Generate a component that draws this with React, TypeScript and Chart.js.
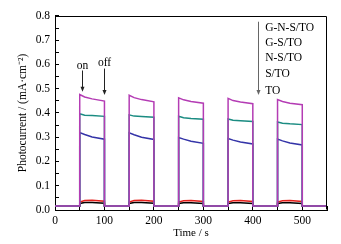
import { useEffect, useRef } from 'react';
import { Chart, registerables } from 'chart.js';
Chart.register(...registerables);

// time axis (s): baseline, light-on edge, decay points, light-off edge
const times = [0, 50, 50, 60, 75, 100, 100, 150, 150, 160, 175, 200, 200, 250, 250, 260, 275, 300, 300, 350, 350, 360, 375, 400, 400, 450, 450, 460, 475, 500, 500, 550];

const gnsTO = [0.017, 0.017, 0.476, 0.466, 0.458, 0.449, 0.017, 0.017, 0.473, 0.463, 0.455, 0.446, 0.017, 0.017, 0.462, 0.454, 0.447, 0.440, 0.017, 0.017, 0.460, 0.451, 0.445, 0.438, 0.017, 0.017, 0.455, 0.447, 0.440, 0.434, 0.017, 0.017];
const gsTO = [0.017, 0.017, 0.397, 0.391, 0.389, 0.386, 0.017, 0.017, 0.392, 0.387, 0.385, 0.382, 0.017, 0.017, 0.386, 0.380, 0.377, 0.374, 0.017, 0.017, 0.375, 0.370, 0.368, 0.365, 0.017, 0.017, 0.363, 0.358, 0.355, 0.352, 0.017, 0.017];
const nsTO = [0.017, 0.017, 0.319, 0.311, 0.301, 0.292, 0.017, 0.017, 0.318, 0.310, 0.300, 0.291, 0.017, 0.017, 0.299, 0.292, 0.283, 0.275, 0.017, 0.017, 0.295, 0.288, 0.280, 0.272, 0.017, 0.017, 0.292, 0.285, 0.276, 0.268, 0.017, 0.017];
const sTO = [0.016, 0.016, 0.033, 0.039, 0.040, 0.036, 0.016, 0.016, 0.033, 0.039, 0.040, 0.036, 0.016, 0.016, 0.033, 0.038, 0.039, 0.035, 0.016, 0.016, 0.033, 0.038, 0.039, 0.035, 0.016, 0.016, 0.033, 0.038, 0.039, 0.035, 0.016, 0.016];
const pTO = [0.016, 0.016, 0.027, 0.031, 0.031, 0.028, 0.016, 0.016, 0.027, 0.031, 0.031, 0.028, 0.016, 0.016, 0.027, 0.030, 0.030, 0.027, 0.016, 0.016, 0.027, 0.030, 0.030, 0.027, 0.016, 0.016, 0.027, 0.030, 0.030, 0.027, 0.016, 0.016];

const seriesNames = ['G-N-S/TO', 'G-S/TO', 'N-S/TO', 'S/TO', 'TO'];
const seriesColors = ['#b43cb4', '#1b8c82', '#3434a8', '#e41e1a', '#000000'];
const seriesValues = [gnsTO, gsTO, nsTO, sTO, pTO];

// legend list (data coordinates)
const legendX = 425;
const legendRowY = [0.750, 0.690, 0.626, 0.560, 0.492];
const legendArrow = { x: 411, from: 0.776, to: 0.474 };

// on/off annotations (data coordinates)
const annotations = [
  { text: 'on', x: 55, textY: 0.595, from: 0.575, to: 0.487 },
  { text: 'off', x: 100, textY: 0.607, from: 0.583, to: 0.474 },
];

const FONT = '"Liberation Serif", "Times New Roman", serif';

export default function App() {
  const ref = useRef<HTMLCanvasElement>(null);
  useEffect(() => {
    document.body.style.margin = '0';
    const canvas = ref.current;
    if (!canvas) return;
    Chart.defaults.font.family = FONT;

    const arrow = (ctx: CanvasRenderingContext2D, x: number, y1: number, y2: number, color: string) => {
      ctx.strokeStyle = color;
      ctx.fillStyle = color;
      ctx.lineWidth = 1;
      ctx.beginPath();
      ctx.moveTo(x, y1);
      ctx.lineTo(x, y2 - 4);
      ctx.stroke();
      ctx.beginPath();
      ctx.moveTo(x - 2, y2 - 5);
      ctx.lineTo(x + 2, y2 - 5);
      ctx.lineTo(x, y2);
      ctx.closePath();
      ctx.fill();
    };

    const overlay = {
      id: 'overlay',
      afterDraw(chart: any) {
        const { ctx, chartArea: ca, scales } = chart;
        const xs = scales.x;
        const ys = scales.y;
        ctx.save();
        ctx.strokeStyle = '#000';
        ctx.lineWidth = 1;
        ctx.beginPath();
        const l = Math.round(ca.left) + 0.5;
        const r = Math.round(ca.right) - 0.5;
        const t = Math.round(ca.top) + 0.5;
        const b = Math.round(ca.bottom) - 0.5;
        ctx.moveTo(l, t);
        ctx.lineTo(r, t);
        ctx.lineTo(r, b);
        ctx.stroke();

        ctx.font = `11.5px ${FONT}`;
        ctx.textBaseline = 'middle';
        ctx.textAlign = 'center';
        for (const a of annotations) {
          const px = Math.round(xs.getPixelForValue(a.x)) + 0.5;
          ctx.fillStyle = '#000';
          ctx.fillText(a.text, px, ys.getPixelForValue(a.textY));
          arrow(ctx, px, ys.getPixelForValue(a.from), ys.getPixelForValue(a.to), '#222');
        }

        const ax = Math.round(xs.getPixelForValue(legendArrow.x)) + 0.5;
        arrow(ctx, ax, ys.getPixelForValue(legendArrow.from), ys.getPixelForValue(legendArrow.to), '#666');
        ctx.textAlign = 'left';
        ctx.fillStyle = '#000';
        ctx.font = `11.5px ${FONT}`;
        seriesNames.forEach((n, i) => {
          ctx.fillText(n, xs.getPixelForValue(legendX), ys.getPixelForValue(legendRowY[i]));
        });
        ctx.restore();
      },
    };

    const chart = new Chart(canvas, {
      type: 'line',
      data: {
        datasets: seriesNames.map((name, i) => ({
          label: name,
          data: times.map((t, j) => ({ x: t, y: seriesValues[i][j] })),
          borderColor: seriesColors[i],
          backgroundColor: seriesColors[i],
          borderWidth: 1.5,
          pointRadius: 0,
          tension: 0,
          fill: false,
        })),
      },
      options: {
        animation: false,
        responsive: false,
        layout: { padding: { top: 11, right: 14, left: 0, bottom: 0 } },
        plugins: { legend: { display: false }, tooltip: { enabled: false } },
        scales: {
          x: {
            type: 'linear',
            min: 0,
            max: 550,
            afterFit: (s: any) => { s.height = 34; },
            ticks: {
              stepSize: 50,
              autoSkip: false,
              maxRotation: 0,
              padding: 8,
              color: '#000',
              font: { size: 11.5, family: FONT, weight: 'normal' },
              callback: (v: any) => (Number(v) % 100 === 0 && Number(v) <= 500 ? String(v) : ''),
            },
            grid: { drawOnChartArea: false, tickLength: -4, color: '#000', tickColor: '#000' },
            border: { color: '#000', width: 1 },
            title: { display: true, text: 'Time / s', color: '#000', font: { size: 11, family: FONT, weight: 'normal' }, padding: { top: 0, bottom: 4 } },
          },
          y: {
            min: 0,
            max: 0.8,
            afterFit: (s: any) => { s.width = 55; },
            ticks: {
              stepSize: 0.05,
              autoSkip: false,
              padding: 9,
              color: '#000',
              font: { size: 11.5, family: FONT, weight: 'normal' },
              callback: (v: any) => (Math.round(Number(v) * 100) % 10 === 0 ? Number(v).toFixed(1) : ''),
            },
            grid: { drawOnChartArea: false, tickLength: -4, color: '#000', tickColor: '#000' },
            border: { color: '#000', width: 1 },
            title: { display: true, text: 'Photocurrent / (mA·cm⁻²)', color: '#000', font: { size: 11.5, family: FONT, weight: 'normal' }, padding: { top: 16, bottom: 0 } },
          },
        },
      },
      plugins: [overlay],
    });
    return () => chart.destroy();
  }, []);
  return (
    <div style={{ width: 341, height: 244 }}>
      <canvas ref={ref} width={341} height={244} style={{ display: 'block' }} />
    </div>
  );
}
